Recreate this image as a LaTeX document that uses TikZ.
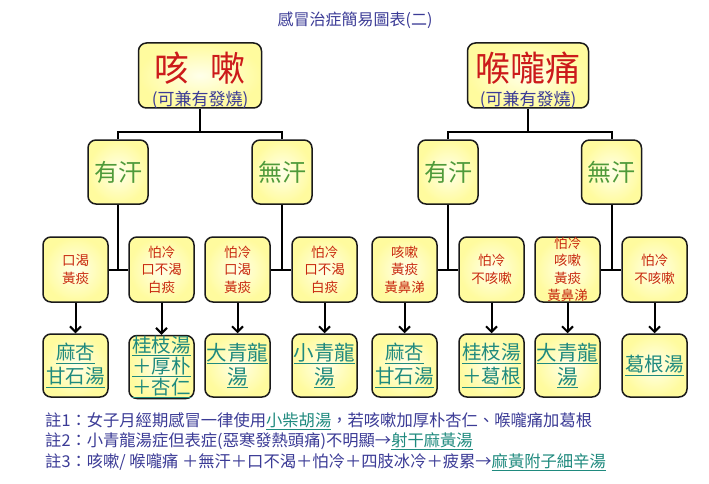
\documentclass[tikz,border=0pt]{standalone}
\usepackage{fontspec}
\setmainfont{Noto Sans CJK TC}
\usetikzlibrary{arrows.meta}
\definecolor{boxedge}{HTML}{1A1A1A}
\definecolor{titleblue}{HTML}{3B3B96}
\definecolor{topred}{HTML}{CC1A1A}
\definecolor{symred}{HTML}{C8280F}
\definecolor{sweatgreen}{HTML}{4F9A3A}
\definecolor{recipeteal}{HTML}{1F8A7E}
\definecolor{fillout}{HTML}{FFFB9E}
\definecolor{fillin}{HTML}{FFFFEA}
\tikzset{
  card/.style={draw=boxedge, line width=1.5pt, rounded corners=8pt,
    inner color=fillin, outer color=fillout, align=center, inner sep=0pt},
  topcard/.style={card, minimum width=123pt, minimum height=65pt},
  sweatcard/.style={card, minimum width=60pt, minimum height=64pt,
    text=sweatgreen, font=\fontsize{24}{28}\selectfont},
  symcard/.style={card, minimum width=65pt, minimum height=65pt,
    text=symred, font=\fontsize{13.5}{17.5}\selectfont},
  rxcard/.style={card, minimum width=65pt, minimum height=63pt,
    text=recipeteal, font=\fontsize{19.5}{24}\selectfont},
  bigred/.style={text=topred, font=\fontsize{35}{38}\selectfont, inner sep=0pt},
  subblue/.style={text=titleblue, font=\fontsize{17}{19}\selectfont, inner sep=0pt},
  notetext/.style={text=titleblue, font=\fontsize{16.3}{19}\selectfont, anchor=west, inner sep=0pt},
  link/.style={line width=2pt, draw=black},
  arrowlink/.style={link, -{Straight Barb[length=5.5pt,width=11pt,line width=2pt]}}
}
\newcommand{\rxu}[1]{\underline{#1}}
\begin{document}
\begin{tikzpicture}[x=1pt,y=-1pt]
\fill[white] (0,0) rectangle (709,484);
\useasboundingbox (0,0) rectangle (709,484);

\node[text=titleblue, font=\fontsize{16}{18}\selectfont] (title) at (355,20) {感冒治症簡易圖表(二)};

% top cards
\node[topcard] (c1) at (200,75.5) {};
\node[bigred] (c1t) at (200,68) {咳\hspace{0.6em}嗽};
\node[subblue] (c1s) at (200,100) {(可兼有發燒)};
\node[topcard, minimum width=121pt] (c2) at (528,75.5) {};
\node[bigred] (c2t) at (528,68) {喉嚨痛};
\node[subblue] (c2s) at (528,100) {(可兼有發燒)};

% sweat level
\node[sweatcard] (y1) at (118,172) {有汗};
\node[sweatcard] (w1) at (282,172) {無汗};
\node[sweatcard] (y2) at (448,172) {有汗};
\node[sweatcard] (w2) at (611.5,172) {無汗};

\coordinate (j1) at (200,132);
\coordinate (j2) at (528,132);
\draw[link] (c1.south) -- (j1);
\draw[link] (y1.north) |- (j1) -| (w1.north);
\draw[link] (c2.south) -- (j2);
\draw[link] (y2.north) |- (j2) -| (w2.north);

% symptom level
\node[symcard] (s1) at (75.5,269.5) {口渴\\黃痰};
\node[symcard] (s2) at (161.5,269.5) {怕冷\\口不渴\\白痰};
\node[symcard] (s3) at (237.5,269.5) {怕冷\\口渴\\黃痰};
\node[symcard] (s4) at (324.5,269.5) {怕冷\\口不渴\\白痰};
\node[symcard] (s5) at (404.5,269.5) {咳嗽\\黃痰\\黃鼻涕};
\node[symcard] (s6) at (491.5,269.5) {怕冷\\不咳嗽};
\node[symcard] (s7) at (567.5,269.5) {怕冷\\咳嗽\\黃痰\\黃鼻涕};
\node[symcard] (s8) at (654.5,269.5) {怕冷\\不咳嗽};

\draw[link] (y1.south) -- (y1.south |- s1.east);
\draw[link] (s1.east) -- (s2.west);
\draw[link] (w1.south) -- (w1.south |- s3.east);
\draw[link] (s3.east) -- (s4.west);
\draw[link] (y2.south) -- (y2.south |- s5.east);
\draw[link] (s5.east) -- (s6.west);
\draw[link] (w2.south) -- (w2.south |- s7.east);
\draw[link] (s7.east) -- (s8.west);

% recipe level
\node[rxcard] (r1) at (75.5,365.5) {\rxu{麻杏}\\\rxu{甘石湯}};
\node[rxcard] (r2) at (161.5,367) {\rxu{桂枝湯}\\[-3pt]\rxu{＋厚朴}\\[-3pt]\rxu{＋杏仁}};
\node[rxcard, font=\fontsize{20.5}{24}\selectfont] (r3) at (237.5,365.5) {\rxu{大青龍}\\\rxu{湯}};
\node[rxcard, font=\fontsize{20.5}{24}\selectfont] (r4) at (324.5,365.5) {\rxu{小青龍}\\\rxu{湯}};
\node[rxcard] (r5) at (404.5,365.5) {\rxu{麻杏}\\\rxu{甘石湯}};
\node[rxcard] (r6) at (491.5,365.5) {\rxu{桂枝湯}\\\rxu{＋葛根}};
\node[rxcard, font=\fontsize{20.5}{24}\selectfont] (r7) at (567.5,365.5) {\rxu{大青龍}\\\rxu{湯}};
\node[rxcard] (r8) at (654.5,365.5) {\rxu{葛根湯}};

\foreach \i in {1,...,8}{
  \draw[arrowlink] (s\i.south) -- (r\i.north);
}

% notes
\node[notetext] (n1) at (45,421) {註1：女子月經期感冒一律使用{\color{recipeteal}\underline{小柴胡湯}}，若咳嗽加厚朴杏仁、喉嚨痛加葛根};
\node[notetext] (n2) at (45,441) {註2：小青龍湯症但表症(惡寒發熱頭痛)不明顯→{\color{recipeteal}\underline{射干麻黃湯}}};
\node[notetext] (n3) at (45,462) {註3：咳嗽/ 喉嚨痛 ＋無汗＋口不渴＋怕冷＋四肢冰冷＋疲累→{\color{recipeteal}\underline{麻黃附子細辛湯}}};
\end{tikzpicture}
\end{document}
